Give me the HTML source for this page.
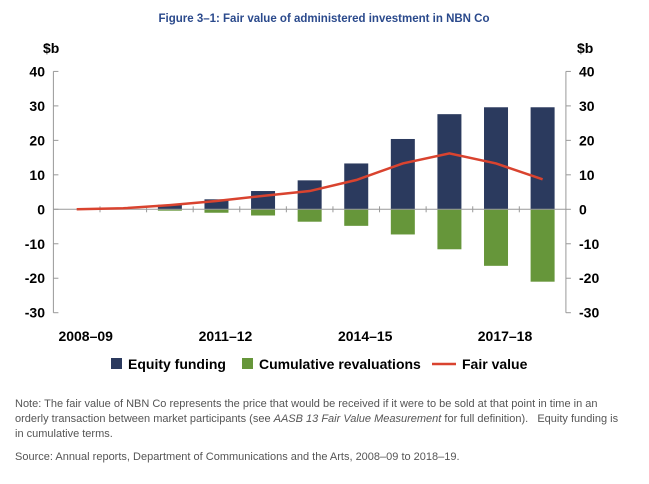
<!DOCTYPE html>
<html><head><meta charset="utf-8"><style>
body{margin:0;background:#fff;font-family:"Liberation Sans",sans-serif;}
#wrap{position:relative;width:649px;height:484px;overflow:hidden;}
.note{position:absolute;left:15px;font-size:11px;color:#555;line-height:15px;width:605px;}
</style></head><body>
<div id="wrap">
<svg id="chart" width="649" height="380" style="position:absolute;left:0;top:0"></svg>
<div class="note" style="top:397px">Note: The fair value of NBN Co represents the price that would be received if it were to be sold at that point in time in an orderly transaction between market participants (see <i>AASB 13 Fair Value Measurement</i> for full definition).&nbsp;&nbsp; Equity funding is in cumulative terms.</div>
<div class="note" style="top:450px">Source: Annual reports, Department of Communications and the Arts, 2008–09 to 2018–19.</div>
</div>
<script>
const categories=["2008–09","2009–10","2010–11","2011–12","2012–13","2013–14","2014–15","2015–16","2016–17","2017–18","2018–19"];
const equityFunding=[0,0,1.3,2.9,5.3,8.4,13.3,20.4,27.6,29.6,29.6];
const revaluations=[0,0,-0.4,-1.0,-1.8,-3.6,-4.8,-7.3,-11.6,-16.4,-21];
const fairValue=[0,0.3,1.2,2.4,3.9,5.3,8.5,13.3,16.2,13.3,8.7];
const yTicks=[40,30,20,10,0,-10,-20,-30];
const xLabelIdx=[0,3,6,9];
const NS="http://www.w3.org/2000/svg";
const svg=document.getElementById('chart');
const X0=53.4,X1=565.9,n=categories.length,bw=(X1-X0)/n;
const xc=i=>X0+bw*(i+0.5);
const y=v=>209.3-v*3.447;
function mk(t,a,txt){const e=document.createElementNS(NS,t);for(const k in a)e.setAttribute(k,a[k]);if(txt!==undefined)e.textContent=txt;svg.appendChild(e);return e;}
let e;
e=mk('text',{x:324,y:22,'text-anchor':'middle','font-size':'11.5','font-weight':'bold',fill:'#2b4a8c'},'Figure 3–1: Fair value of administered investment in NBN Co');

e=mk('text',{x:43,y:53,'font-size':'14','font-weight':'bold',fill:'#000'},'$b');

e=mk('text',{x:577,y:53,'font-size':'14','font-weight':'bold',fill:'#000'},'$b');

yTicks.forEach(v=>{
 e=mk('text',{x:45,y:y(v)+5,'text-anchor':'end','font-size':'14','font-weight':'bold'},String(v));
 
 e=mk('text',{x:579,y:y(v)+5,'font-size':'14','font-weight':'bold'},String(v));
 
 e=mk('line',{x1:X1,x2:X1+5,y1:y(v),y2:y(v),stroke:'#999'});
 
 e=mk('line',{x1:X0,x2:X0+5,y1:y(v),y2:y(v),stroke:'#999'});
 
});
e=mk('line',{x1:X1,x2:X1,y1:y(40),y2:y(-30),stroke:'#999'});

e=mk('line',{x1:X0,x2:X0,y1:y(40),y2:y(-30),stroke:'#999'});

categories.forEach((c,i)=>{
 e=mk('rect',{x:xc(i)-12,y:y(equityFunding[i]),width:24,height:Math.max(0,y(0)-y(equityFunding[i])),fill:'#2b3a5e'});
 
 e=mk('rect',{x:xc(i)-12,y:y(0),width:24,height:Math.max(0,y(revaluations[i])-y(0)),fill:'#66963a'});
 
});
e=mk('line',{x1:X0,x2:X1,y1:y(0),y2:y(0),stroke:'#999'});

for(let i=1;i<n;i++){e=mk('line',{x1:X0+bw*i,x2:X0+bw*i,y1:y(0)-3,y2:y(0)+3,stroke:'#999'});
 }
e=mk('polyline',{points:fairValue.map((v,i)=>xc(i)+','+y(v)).join(' '),fill:'none',stroke:'#d9432f','stroke-width':'2.5'});

xLabelIdx.forEach(i=>{
 e=mk('text',{x:xc(i)+9,y:341,'text-anchor':'middle','font-size':'14','font-weight':'bold'},categories[i]);
 
});
e=mk('rect',{x:111,y:358,width:11,height:11,fill:'#2b3a5e'});

e=mk('text',{x:128,y:369,'font-size':'14','font-weight':'bold'},'Equity funding');

e=mk('rect',{x:242,y:358,width:11,height:11,fill:'#66963a'});

e=mk('text',{x:259,y:369,'font-size':'14','font-weight':'bold'},'Cumulative revaluations');

e=mk('line',{x1:432,x2:456,y1:364,y2:364,stroke:'#d9432f','stroke-width':'2.5'});

e=mk('text',{x:462,y:369,'font-size':'14','font-weight':'bold'},'Fair value');

</script>
</body></html>
